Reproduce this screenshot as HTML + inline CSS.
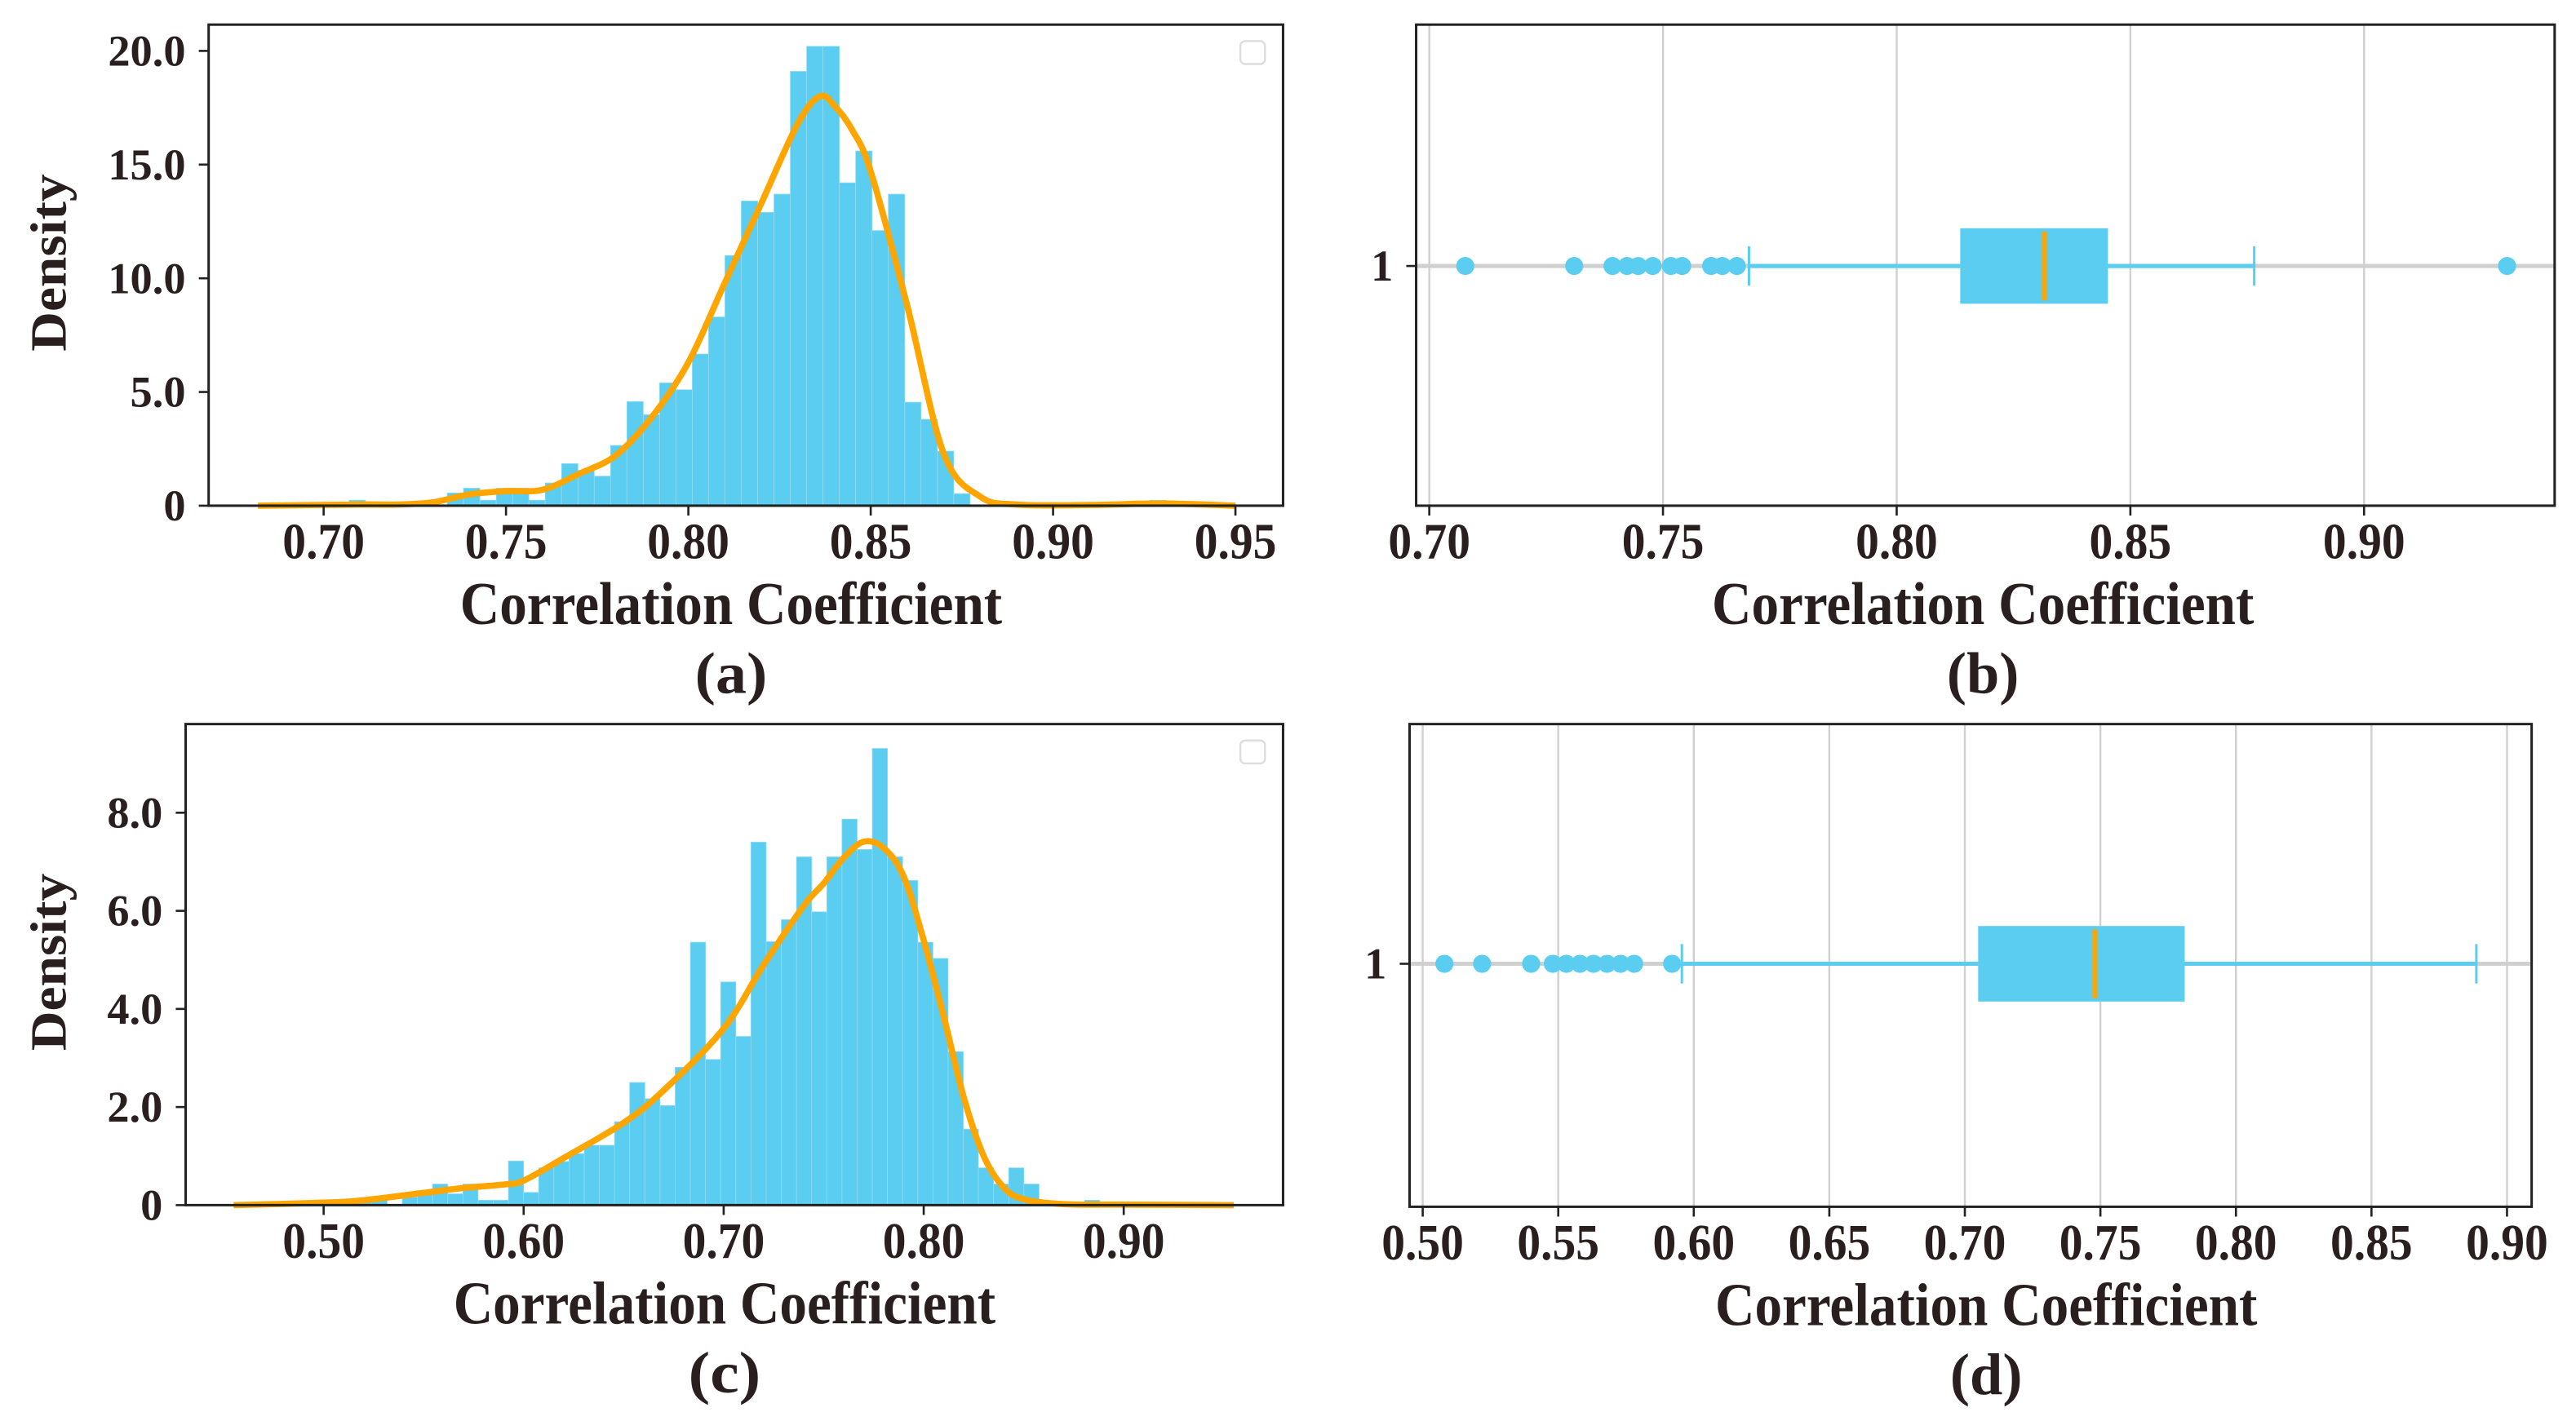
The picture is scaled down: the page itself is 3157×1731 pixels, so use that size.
<!DOCTYPE html>
<html><head><meta charset="utf-8"><style>
html,body{margin:0;padding:0;background:#fff;}
svg{display:block;}
text{font-family:"Liberation Serif",serif;font-weight:bold;fill:#2a1f1f;}
</style></head><body>
<svg id="fig" width="3157" height="1731" viewBox="0 0 1568 860" preserveAspectRatio="none" xmlns="http://www.w3.org/2000/svg"></svg>
<script>
// ---- Panel (a) data ----
const aBinStart = 0.707, aBinWidth = 0.00448;
const aCounts = [0.24,0,0,0,0,0,0.56,0.77,0.24,0.77,0.77,0.24,1.0,1.85,1.56,1.3,2.65,4.58,4.0,5.4,5.1,6.67,8.3,11.0,13.4,12.9,13.7,19.1,20.2,20.2,14.2,15.6,12.1,13.7,4.55,3.8,2.4,0.53,0,0,0,0,0,0,0,0,0,0,0,0.24];
const aKdeX = [0.682,0.71,0.72,0.73,0.74,0.75,0.76,0.77,0.78,0.79,0.80,0.81,0.82,0.83,0.836,0.84,0.845,0.85,0.86,0.87,0.88,0.89,0.91,0.93,0.95];
const aKdeY = [0,0.05,0.05,0.15,0.5,0.64,0.7,1.4,2.2,3.9,6.3,9.8,13.3,16.8,18.0,17.6,16.5,14.7,8.8,2.3,0.4,0.05,0.03,0.1,0];
const aXTicks = [0.70,0.75,0.80,0.85,0.90,0.95];
const aXTickLabels = ["0.70","0.75","0.80","0.85","0.90","0.95"];
const aYTicks = [0,5,10,15,20];
const aYTickLabels = ["0","5.0","10.0","15.0","20.0"];
// ---- Panel (c) data ----
const cBinStart = 0.509, cBinWidth = 0.00758;
const cCounts = [0.1,0.1,0.1,0,0.16,0.23,0.43,0.23,0.43,0.1,0.1,0.9,0.26,0.76,0.89,1.05,1.22,1.22,1.7,2.5,2.17,2.03,2.81,5.36,2.97,4.55,3.44,7.4,5.37,5.82,7.1,5.98,7.1,7.87,7.25,9.31,7.1,6.62,5.36,5.03,3.13,1.55,0.76,0.43,0.76,0.43,0,0,0,0.1];
const cKdeX = [0.455,0.50,0.52,0.55,0.57,0.59,0.60,0.62,0.65,0.67,0.70,0.72,0.74,0.75,0.76,0.77,0.78,0.79,0.80,0.81,0.82,0.83,0.84,0.85,0.87,0.90,0.955];
const cKdeY = [0,0.05,0.1,0.25,0.35,0.42,0.5,0.96,1.68,2.34,3.6,4.9,6.1,6.56,7.08,7.41,7.28,6.7,5.4,3.85,2.2,1.0,0.36,0.12,0.02,0.01,0];
const cXTicks = [0.50,0.60,0.70,0.80,0.90];
const cXTickLabels = ["0.50","0.60","0.70","0.80","0.90"];
const cYTicks = [0,2,4,6,8];
const cYTickLabels = ["0","2.0","4.0","6.0","8.0"];
// ---- Panel (b) data ----
const bStats = [0.7684,0.8136,0.8316,0.8452,0.8765]; // lowCap, q1, median, q3, highCap
const bOutliers = [0.7077,0.731,0.7392,0.7423,0.7447,0.7478,0.7517,0.7541,0.7603,0.7627,0.7658,0.9306];
const bXTicks = [0.70,0.75,0.80,0.85,0.90];
const bXTickLabels = ["0.70","0.75","0.80","0.85","0.90"];
// ---- Panel (d) data ----
const dStats = [0.5956,0.7049,0.748,0.7811,0.8887];
const dOutliers = [0.508,0.5219,0.540,0.548,0.553,0.558,0.563,0.568,0.573,0.578,0.592];
const dXTicks = [0.50,0.55,0.60,0.65,0.70,0.75,0.80,0.85,0.90];
const dXTickLabels = ["0.50","0.55","0.60","0.65","0.70","0.75","0.80","0.85","0.90"];

const NS = "http://www.w3.org/2000/svg";
const svg = document.getElementById('fig');
function mk(tag, attrs, parent, txt){
  const e = document.createElementNS(NS, tag);
  for (const k in attrs) e.setAttribute(k, attrs[k]);
  if (txt !== undefined) e.textContent = txt;
  (parent||svg).appendChild(e);
  return e;
}
function lin(d0,d1,r0,r1){ return v => r0 + (v-d0)*(r1-r0)/(d1-d0); }
function smooth(pts){
  let d = "M" + pts[0][0] + "," + pts[0][1];
  for (let i=0;i<pts.length-1;i++){
    const p0=pts[Math.max(0,i-1)], p1=pts[i], p2=pts[i+1], p3=pts[Math.min(pts.length-1,i+2)];
    const c1x=p1[0]+(p2[0]-p0[0])/6, c1y=p1[1]+(p2[1]-p0[1])/6;
    const c2x=p2[0]-(p3[0]-p1[0])/6, c2y=p2[1]-(p3[1]-p1[1])/6;
    d += " C"+c1x+","+c1y+" "+c2x+","+c2y+" "+p2[0]+","+p2[1];
  }
  return d;
}
function xLabels(g, ticks, labels, sx, bottom){
  ticks.forEach((t,i)=>{
    const tk = mk('line',{x1:sx(t),x2:sx(t),y1:bottom,y2:bottom+6,stroke:'#222','stroke-width':1.3},g);
    
    
    const tl = mk('text',{x:sx(t),y:bottom+32,'text-anchor':'middle','font-size':31,textLength:50,lengthAdjust:'spacingAndGlyphs'},g,labels[i]);
    
    
  });
}
function frame(g,L,R,T,B){
  const f = mk('rect',{x:L,y:T,width:R-L,height:B-T,fill:'none',stroke:'#222','stroke-width':1.5},g);
  
  
}
function titles(g, cx, xlY, capY, cap){
  const xl = mk('text',{x:cx,y:xlY,'text-anchor':'middle','font-size':37,textLength:330,lengthAdjust:'spacingAndGlyphs'},g,'Correlation Coefficient');
  
  
  const c = mk('text',{x:cx,y:capY,'text-anchor':'middle','font-size':36,textLength:44,lengthAdjust:'spacingAndGlyphs'},g,cap);
  
  
}

function histPanel(name, L,R,T,B, xd0,xd1,xr0,xr1, yd1,yr1, binStart,binW,counts,kx,ky, xt,xtl,yt,ytl, cap, dens, tcx){
  const g = mk('g',{});
  
  
  const sx = lin(xd0,xd1,xr0,xr1), sy = lin(0,yd1,B,yr1);
  counts.forEach((c,i)=>{
    if (c<=0) return;
    const x0 = sx(binStart+i*binW), x1 = sx(binStart+(i+1)*binW);
    const r = mk('rect',{x:x0,y:sy(c),width:x1-x0,height:B-sy(c),fill:'#5bcdf0',stroke:'#8fdcf5','stroke-width':0.4},g);
    
    
  });
  const pts = kx.map((x,i)=>[sx(x),sy(ky[i])]);
  const k = mk('path',{d:smooth(pts),fill:'none',stroke:'#ffa500','stroke-width':3.8},g);
  
  
  frame(g,L,R,T,B);
  xLabels(g,xt,xtl,sx,B);
  yt.forEach((t,i)=>{
    const tk = mk('line',{x1:L-6,x2:L,y1:sy(t),y2:sy(t),stroke:'#222','stroke-width':1.3},g);
    
    
    const tl = mk('text',{x:L-14,y:sy(t)+9,'text-anchor':'end','font-size':27},g,ytl[i]);
    
    
  });
  const yl = mk('text',{x:0,y:0,'text-anchor':'middle','font-size':31,transform:'translate('+(dens[0])+','+dens[1]+') rotate(-90)',textLength:108,lengthAdjust:'spacingAndGlyphs'},g,'Density');
  
  
  const lg = mk('rect',{x:R-26,y:T+10,width:15,height:14,rx:3,fill:'#fff',stroke:'#ddd','stroke-width':1.2},g);
  
  
  titles(g,tcx,(B+72),(B+114),cap);
}

function boxPanel(name, L,R,T,B, xd0,xd1,xr0,xr1, cy, stats, outl, xt, xtl, cap, tcx){
  const g = mk('g',{});
  
  
  const sx = lin(xd0,xd1,xr0,xr1);
  xt.forEach(t=>{
    const gl = mk('line',{x1:sx(t),x2:sx(t),y1:T,y2:B,stroke:'#d0d0d0','stroke-width':1.2},g);
    
    
  });
  const hg = mk('line',{x1:L,x2:R,y1:cy,y2:cy,stroke:'#d0d0d0','stroke-width':2.5},g);
  
  
  const w1 = mk('line',{x1:sx(stats[0]),x2:sx(stats[1]),y1:cy,y2:cy,stroke:'#5bcdf0','stroke-width':2.5},g);
  
  
  const w2 = mk('line',{x1:sx(stats[3]),x2:sx(stats[4]),y1:cy,y2:cy,stroke:'#5bcdf0','stroke-width':2.5},g);
  
  
  [stats[0],stats[4]].forEach(v=>{
    const cp = mk('line',{x1:sx(v),x2:sx(v),y1:cy-12,y2:cy+12,stroke:'#5bcdf0','stroke-width':1.5},g);
    
    
  });
  const bx = mk('rect',{x:sx(stats[1]),y:cy-23,width:sx(stats[3])-sx(stats[1]),height:46,fill:'#5bcdf0'},g);
  
  
  const md = mk('line',{x1:sx(stats[2]),x2:sx(stats[2]),y1:cy-21,y2:cy+21,stroke:'#ffa500','stroke-width':3},g);
  
  
  outl.forEach(v=>{
    const o = mk('ellipse',{cx:sx(v),cy:cy,rx:5.5,ry:5.5,fill:'#5bcdf0'},g);
    
    
  });
  frame(g,L,R,T,B);
  xLabels(g,xt,xtl,sx,B);
  const tk = mk('line',{x1:L-6,x2:L,y1:cy,y2:cy,stroke:'#222','stroke-width':1.3},g);
  
  
  const tl = mk('text',{x:L-14,y:cy+9,'text-anchor':'end','font-size':27},g,'1');
  
  
  titles(g,tcx,(B+72),(B+114),cap);
}

histPanel('histogram-panel-a',127,781,15,308, 0.70,0.95,197,752, 20,31, aBinStart,aBinWidth,aCounts,aKdeX,aKdeY, aXTicks,aXTickLabels,aYTicks,aYTickLabels,'(a)',[40,160],445);
boxPanel('boxplot-panel-b',862,1555,15,308, 0.70,0.90,870,1439, 162, bStats,bOutliers,bXTicks,bXTickLabels,'(b)',1207);
histPanel('histogram-panel-c',113,781,441,734, 0.50,0.90,197,684, 8,495, cBinStart,cBinWidth,cCounts,cKdeX,cKdeY, cXTicks,cXTickLabels,cYTicks,cYTickLabels,'(c)',[40,586],441);
boxPanel('boxplot-panel-d',858,1541,441,735, 0.50,0.90,866,1526, 587, dStats,dOutliers,dXTicks,dXTickLabels,'(d)',1209);
</script>
</body></html>
